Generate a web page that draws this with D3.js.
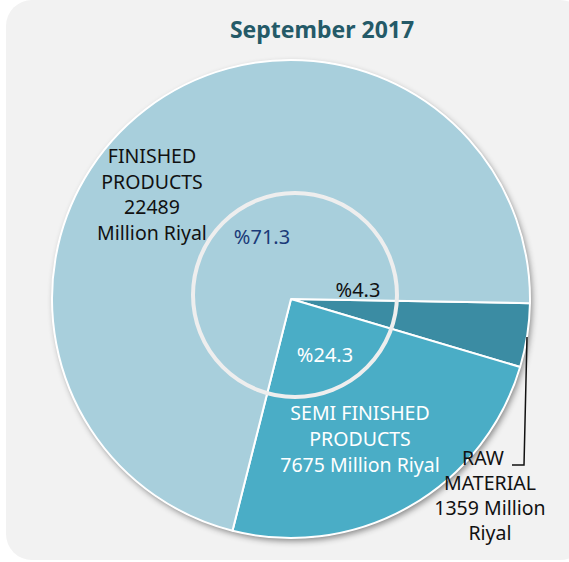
<!DOCTYPE html>
<html lang="en">
<head>
    <meta charset="UTF-8">
    <title>September 2017</title>
    <script src="https://d3js.org/d3.v7.min.js"></script>
    <style>
        body {margin: 0; background: #fff;}
        text {font-family: "Noto Sans", sans-serif;}
    </style>
</head>
<body>
<script>
    const width = 569;
    const height = 562;

    // data
    const categories = ["RAW MATERIAL", "SEMI FINISHED PRODUCTS", "FINISHED PRODUCTS"];
    const values     = [1359, 7675, 22489];
    const shares     = ["%4.3", "%24.3", "%71.3"];
    const colors     = ["#3b8ca3", "#4aadc6", "#a8cfdc"];
    const labelLines = [
        ["RAW", "MATERIAL", "1359 Million", "Riyal"],
        ["SEMI FINISHED", "PRODUCTS", "7675 Million Riyal"],
        ["FINISHED", "PRODUCTS", "22489", "Million Riyal"]
    ];

    const cx = 291, cy = 299, radius = 239;

    const svg = d3.select("body").append("svg")
            .attr("width", width).attr("height", height);

    const defs = svg.append("defs");
    const shadow = defs.append("filter").attr("id", "shadow")
            .attr("x", "-10%").attr("y", "-10%").attr("width", "120%").attr("height", "120%");
    shadow.append("feDropShadow")
            .attr("dx", 2).attr("dy", 3).attr("stdDeviation", 3)
            .attr("flood-color", "#000").attr("flood-opacity", 0.45);

    // background panel
    svg.append("rect")
            .attr("x", 6).attr("y", 0)
            .attr("width", 580).attr("height", 560)
            .attr("rx", 26)
            .style("fill", "#f2f2f2");

    svg.append("text")
            .attr("x", 322).attr("y", 38)
            .attr("text-anchor", "middle")
            .style("font-size", "23px")
            .style("font-weight", "bold")
            .style("fill", "#245a68")
            .text("September 2017");

    const pie = d3.pie()
            .sort(null)
            .startAngle(91 * Math.PI / 180)
            .endAngle(91 * Math.PI / 180 + 2 * Math.PI);

    const arcs = pie(values);
    const arc = d3.arc().innerRadius(0).outerRadius(radius);

    const g = svg.append("g").attr("transform", `translate(${cx},${cy})`);

    g.append("circle").attr("r", radius)
            .style("fill", "#fff")
            .attr("filter", "url(#shadow)");

    g.selectAll("path.slice")
            .data(arcs)
            .enter()
            .append("path")
            .attr("class", "slice")
            .attr("d", arc)
            .style("fill", (d, i) => colors[i])
            .style("stroke", "#fff")
            .style("stroke-width", 2)
            .style("stroke-linejoin", "round");

    // inner ring
    svg.append("circle")
            .attr("cx", 295).attr("cy", 295).attr("r", 102)
            .style("fill", "none")
            .style("stroke", "#eeeeee")
            .style("stroke-width", 4);

    // percentage labels
    const pctPos = [[358, 297], [325, 362], [262, 244]];
    const pctColor = ["#111", "#fff", "#1b3a78"];
    svg.selectAll("text.pct")
            .data(shares)
            .enter()
            .append("text")
            .attr("class", "pct")
            .attr("x", (d, i) => pctPos[i][0])
            .attr("y", (d, i) => pctPos[i][1])
            .attr("text-anchor", "middle")
            .style("font-size", "20px")
            .style("fill", (d, i) => pctColor[i])
            .text(d => d);

    // category labels
    const labelPos = [[490, 465], [360, 420], [152, 163]];
    const labelColor = ["#111", "#fff", "#111"];
    const lineH = [25, 26, 25.5];
    labelLines.forEach((lines, i) => {
        const t = svg.append("text")
                .attr("text-anchor", "middle")
                .style("font-size", "19.5px")
                .style("fill", labelColor[i]);
        lines.forEach((s, j) => {
            t.append("tspan")
                    .attr("x", labelPos[i][0] + (i === 0 && j === 0 ? -7 : 0))
                    .attr("y", labelPos[i][1] + j * lineH[i])
                    .text(s);
        });
    });

    // leader for raw material
    svg.append("path")
            .attr("d", d3.line()([[527, 337], [524, 465], [512, 465]]))
            .style("fill", "none")
            .style("stroke", "#111")
            .style("stroke-width", 1.5);
</script>
</body>
</html>
